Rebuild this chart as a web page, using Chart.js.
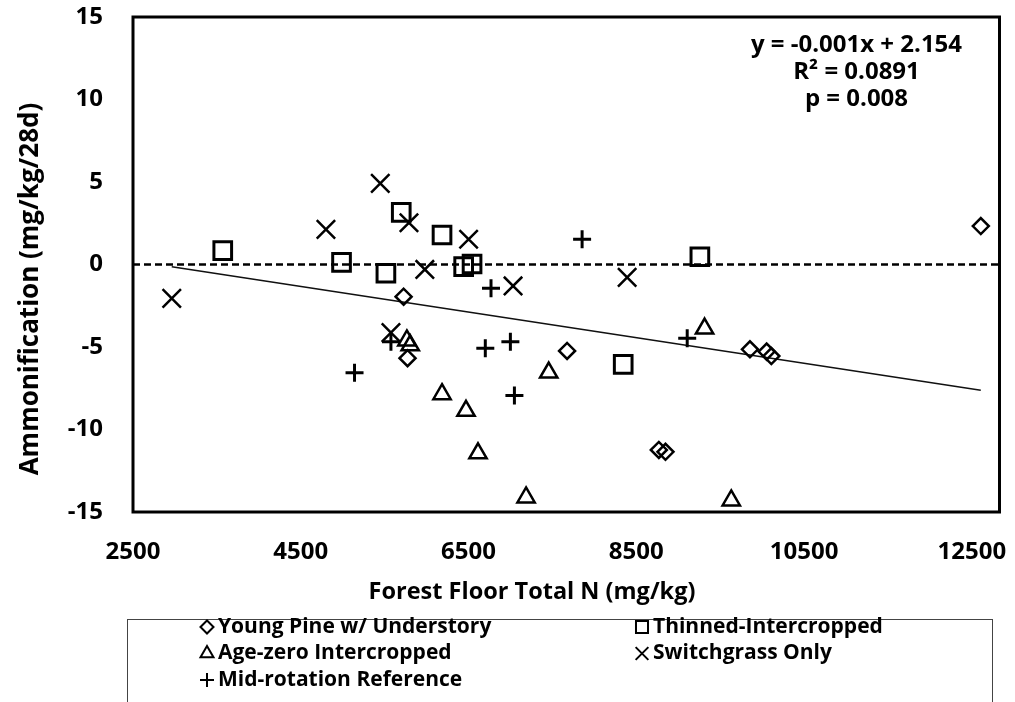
<!DOCTYPE html>
<html>
<head>
<meta charset="utf-8">
<script src="https://cdn.jsdelivr.net/npm/chart.js@4.4.0/dist/chart.umd.min.js"></script>
<style>
  html, body { margin: 0; padding: 0; background: #fff; }
  #wrap { width: 1015px; height: 702px; }
</style>
</head>
<body>
<div id="wrap"><canvas id="ammChart" width="1015" height="702"></canvas></div>
<script>
// x = forest floor total N (mg/kg), y = ammonification (mg/kg/28d)
const youngPineX = [5726, 5773, 7675, 9855, 10054, 10110, 8769, 8848, 12607];
const youngPineY = [-1.95, -5.68, -5.24, -5.14, -5.28, -5.55, -11.24, -11.35, 2.33];

const thinnedX = [3570, 4986, 5515, 5698, 6184, 6442, 6542, 9258, 8344];
const thinnedY = [0.84, 0.13, -0.53, 3.16, 1.79, -0.13, 0.03, 0.47, -6.05];

const ageZeroX = [5765, 5805, 9314, 7456, 6184, 6470, 6613, 7186, 9632];
const ageZeroY = [-4.6, -4.9, -3.88, -6.55, -7.86, -8.87, -11.44, -14.12, -14.3];

const switchgrassX = [2962, 4800, 5448, 5790, 5979, 6501, 7031, 8391, 5575];
const switchgrassY = [-2.05, 2.13, 4.92, 2.53, -0.3, 1.53, -1.3, -0.78, -4.13];

const midRotationX = [5575, 5141, 6768, 7854, 9107, 6999, 6700, 7047];
const midRotationY = [-4.68, -6.56, -1.44, 1.53, -4.47, -4.68, -5.08, -7.94];

const xTicks = [2500, 4500, 6500, 8500, 10500, 12500];
const yTicks = [-15, -10, -5, 0, 5, 10, 15];
const xMin = 2500, xMax = 12830;
const yMin = -15, yMax = 15;

// linear trend (slope shown rounded to -0.001 in the label)
const trendSlope = -0.000775;
const trendIntercept = 2.154;
const fitText = ["y = -0.001x + 2.154", "R\u00B2 = 0.0891", "p = 0.008"];

const xTitle = "Forest Floor Total N (mg/kg)";
const yTitle = "Ammonification (mg/kg/28d)";

const FONT = "'Open Sans', 'DejaVu Sans', sans-serif";

function toPoints(xs, ys) {
  return xs.map((x, i) => ({ x: x, y: ys[i] }));
}

const series = [
  { label: "Young Pine w/ Understory", xs: youngPineX, ys: youngPineY, style: "rectRot", r: 8, w: 2.5, lr: 6.5 },
  { label: "Thinned-Intercropped", xs: thinnedX, ys: thinnedY, style: "rect", r: 12.5, w: 3, lr: 8.5 },
  { label: "Age-zero Intercropped", xs: ageZeroX, ys: ageZeroY, style: "triangle", r: 10, w: 2.5, lr: 7.5 },
  { label: "Switchgrass Only", xs: switchgrassX, ys: switchgrassY, style: "crossRot", r: 13, w: 2.5, lr: 9 },
  { label: "Mid-rotation Reference", xs: midRotationX, ys: midRotationY, style: "cross", r: 9, w: 3, lr: 7 }
];

const allX = [].concat(...series.map(s => s.xs));
const fitX0 = Math.min(...allX), fitX1 = Math.max(...allX);

const datasets = series.map(s => ({
  label: s.label,
  data: toPoints(s.xs, s.ys),
  showLine: false,
  pointStyle: s.style,
  pointRadius: s.r,
  pointBorderWidth: s.w,
  pointBorderColor: "#000",
  pointBackgroundColor: "rgba(0,0,0,0)"
}));

datasets.push({
  label: "trend",
  type: "line",
  data: [
    { x: fitX0, y: trendIntercept + trendSlope * fitX0 },
    { x: fitX1, y: trendIntercept + trendSlope * fitX1 }
  ],
  borderColor: "#111",
  borderWidth: 1.5,
  pointRadius: 0,
  fill: false
});

datasets.push({
  label: "zero",
  type: "line",
  data: [{ x: xMin, y: 0 }, { x: xMax, y: 0 }],
  borderColor: "#000",
  borderWidth: 2.5,
  borderDash: [7, 4],
  pointRadius: 0,
  fill: false
});

// frame, axis titles, fit text and the boxed legend
const extrasPlugin = {
  id: "extras",
  afterDatasetsDraw(chart) {
    const { ctx, chartArea: a } = chart;
    ctx.save();
    ctx.strokeStyle = "#000";
    ctx.lineWidth = 3;
    ctx.strokeRect(a.left, a.top, a.right - a.left, a.bottom - a.top);

    ctx.fillStyle = "#000";
    ctx.textAlign = "center";
    ctx.textBaseline = "middle";

    ctx.font = "bold 24px " + FONT;
    fitText.forEach((t, i) => ctx.fillText(t, a.right - 143, a.top + 28 + i * 27));

    ctx.font = "bold 23.5px " + FONT;
    ctx.fillText(xTitle, 532, a.bottom + 80);

    ctx.save();
    ctx.translate(31, 289);
    ctx.rotate(-Math.PI / 2);
    ctx.font = "bold 26px " + FONT;
    ctx.fillText(yTitle, 0, 0);
    ctx.restore();

    // legend
    const lx = 127, ly = 619, lw = 865, lh = 90;
    ctx.lineWidth = 1;
    ctx.strokeStyle = "#444";
    ctx.strokeRect(lx + 0.5, ly + 0.5, lw, lh);

    const colX = [207, 642];
    const rowY = [627, 653.5, 680];
    ctx.font = "bold 21px " + FONT;
    ctx.textAlign = "left";
    series.forEach((s, i) => {
      const cx = colX[i % 2];
      const cy = rowY[Math.floor(i / 2)];
      ctx.strokeStyle = "#000";
      ctx.fillStyle = "rgba(0,0,0,0)";
      ctx.lineWidth = 2;
      Chart.helpers.drawPoint(ctx, { pointStyle: s.style, radius: s.lr, borderWidth: 2, rotation: 0 }, cx, cy);
      ctx.fillStyle = "#000";
      ctx.fillText(s.label, cx + 11, cy);
    });
    ctx.restore();
  }
};

const tickFont = { family: FONT, size: 24, weight: "bold" };

new Chart(document.getElementById("ammChart"), {
  type: "scatter",
  data: { datasets },
  options: {
    responsive: false,
    animation: false,
    events: [],
    layout: { padding: { left: 0, top: 17, right: 15, bottom: 90 } },
    plugins: {
      legend: { display: false },
      tooltip: { enabled: false }
    },
    scales: {
      x: {
        type: "linear",
        min: xMin,
        max: xMax,
        afterBuildTicks: s => { s.ticks = xTicks.map(v => ({ value: v })); },
        afterFit: s => { s.height = 100; s.paddingLeft = 0; s.paddingRight = 0; },
        grid: { display: false, drawTicks: false },
        border: { display: false },
        ticks: { font: tickFont, color: "#000", padding: 26, maxRotation: 0, autoSkip: false, callback: v => String(v) }
      },
      y: {
        type: "linear",
        min: yMin,
        max: yMax,
        afterBuildTicks: s => { s.ticks = yTicks.map(v => ({ value: v })); },
        afterFit: s => { s.width = 133; s.paddingTop = 0; s.paddingBottom = 0; },
        grid: { display: false, drawTicks: false },
        border: { display: false },
        ticks: { font: tickFont, color: "#000", padding: 30, callback: v => String(v) }
      }
    }
  },
  plugins: [extrasPlugin]
});
</script>
</body>
</html>
